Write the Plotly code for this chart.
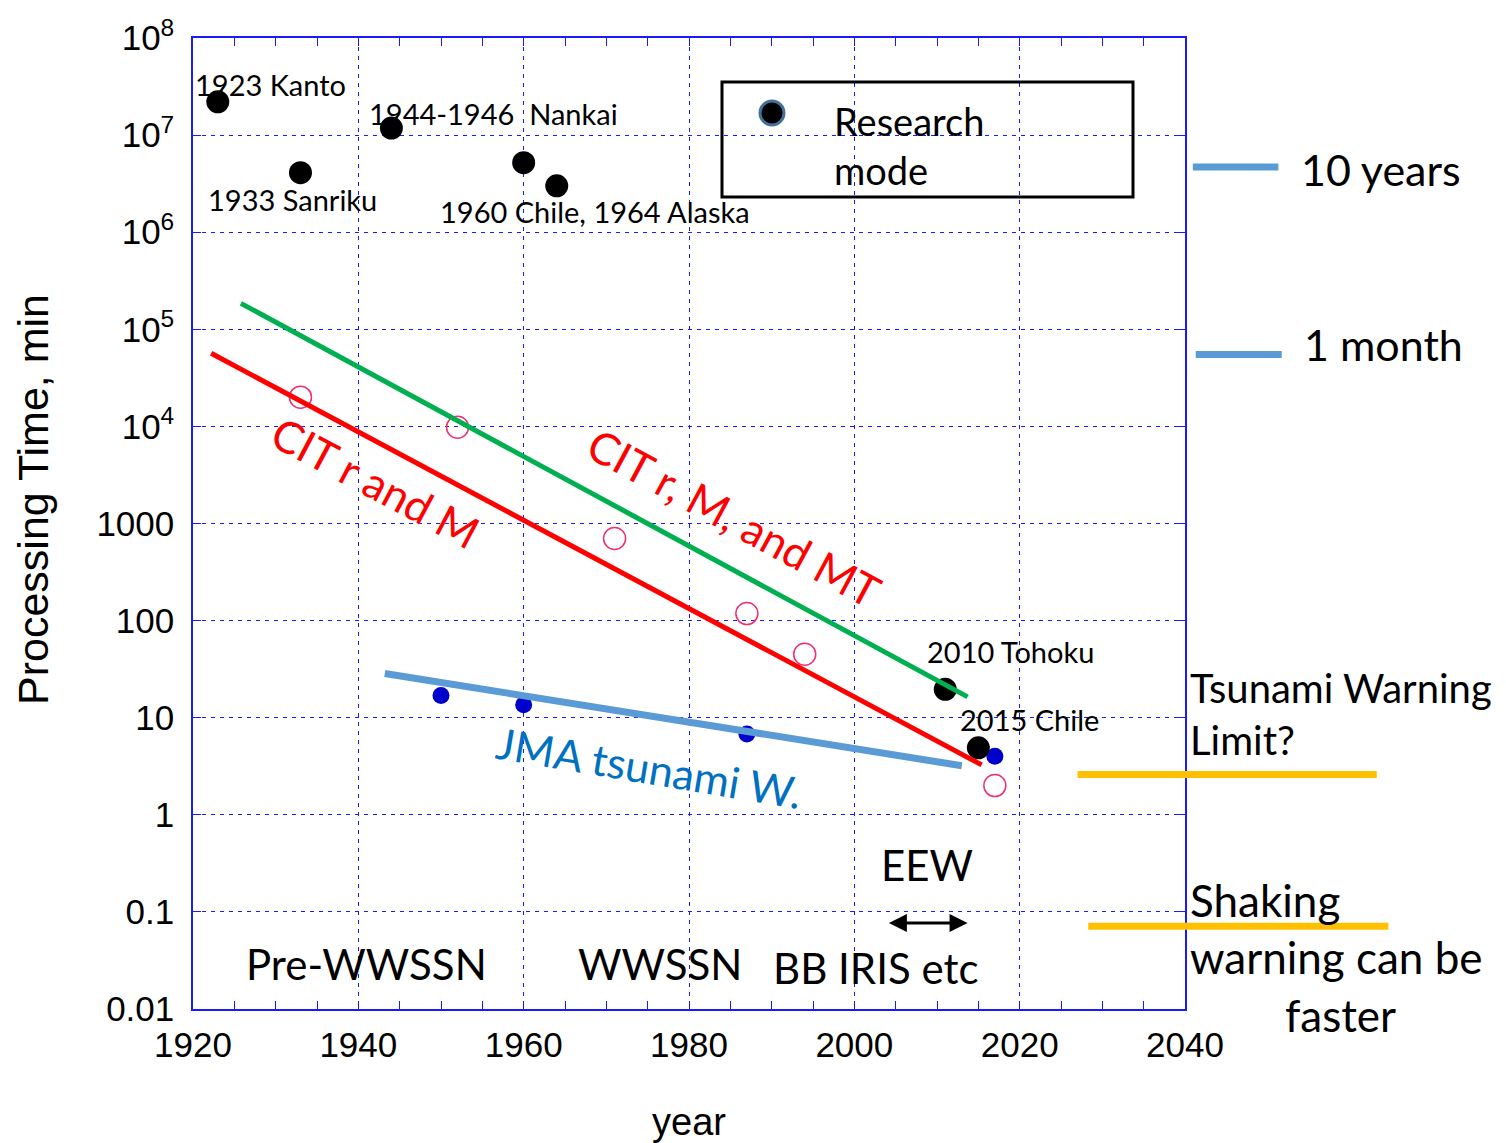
import numpy as np
import plotly.graph_objects as go

# ---------------- data ----------------
research_years = [1923, 1933, 1944, 1960, 1964, 2011, 2015]
research_minutes = [2.2e7, 4.1e6, 1.18e7, 5.2e6, 3.0e6, 19.6, 4.9]

jma_years = [1950, 1960, 1987, 2017]
jma_minutes = [16.9, 13.6, 6.8, 4.0]

cit_years = [1933, 1952, 1971, 1987, 1994, 2017]
cit_minutes = [2.0e4, 9.8e3, 700, 118, 45, 2.0]

green_fit_years = [1925.8, 2013.7]
green_fit_minutes = [1.85e5, 16.4]
red_fit_years = [1922.2, 2015.4]
red_fit_minutes = [5.66e4, 3.27]
jma_fit_years = [1943.2, 2013.0]
jma_fit_minutes = [28.5, 3.2]

tsunami_limit_minutes = 2.6
shaking_minutes = 0.071
ten_years_minutes = 4.7e6
one_month_minutes = 5.5e4

ytick_vals = [0.01, 0.1, 1, 10, 100, 1000, 1e4, 1e5, 1e6, 1e7, 1e8]
ytick_text = ["0.01", "0.1", "1", "10", "100", "1000",
              "10<sup>4</sup>", "10<sup>5</sup>", "10<sup>6</sup>",
              "10<sup>7</sup>", "10<sup>8</sup>"]
xtick_vals = [1920, 1940, 1960, 1980, 2000, 2020, 2040]

X0, X1 = 1920, 2040
Y0, Y1 = -2, 8  # log10 range


def px(year):
    return (year - X0) / (X1 - X0)


def py(value):
    return (np.log10(value) - Y0) / (Y1 - Y0)


CAL = "Lato, Carlito, Calibri, sans-serif"
ARIAL = "Liberation Sans, Arial, sans-serif"
GRID = "#1a1aff"

fig = go.Figure()

fig.add_trace(go.Scatter(x=cit_years, y=cit_minutes, mode="markers",
                         marker=dict(symbol="circle-open", size=22, color="#f0306e",
                                     line=dict(width=1.5, color="#f0306e")),
                         showlegend=False))
fig.add_trace(go.Scatter(x=jma_years, y=jma_minutes, mode="markers",
                         marker=dict(size=17, color="#0000cc"), showlegend=False))
fig.add_trace(go.Scatter(x=research_years, y=research_minutes, mode="markers",
                         marker=dict(size=23, color="black"), showlegend=False,
                         name="Research mode"))
fig.add_trace(go.Scatter(x=green_fit_years, y=green_fit_minutes, mode="lines",
                         line=dict(color="#00b050", width=5), showlegend=False))
fig.add_trace(go.Scatter(x=red_fit_years, y=red_fit_minutes, mode="lines",
                         line=dict(color="#ff0000", width=5), showlegend=False))
fig.add_trace(go.Scatter(x=jma_fit_years, y=jma_fit_minutes, mode="lines",
                         line=dict(color="#5b9bd5", width=7), showlegend=False))

shapes = []
# legend frame and symbol
shapes.append(dict(type="rect", xref="paper", yref="paper",
                   x0=(722 - 193) / 992, x1=(1133 - 193) / 992,
                   y0=(1009 - 197) / 971, y1=(1009 - 82) / 971,
                   line=dict(color="black", width=3), fillcolor="rgba(0,0,0,0)"))
shapes.append(dict(type="circle", xref="paper", yref="paper",
                   x0=(760 - 193) / 992, x1=(784 - 193) / 992,
                   y0=(1009 - 125) / 971, y1=(1009 - 101) / 971,
                   line=dict(color="#41719c", width=3), fillcolor="black"))
# orange limit lines
shapes.append(dict(type="line", xref="paper", yref="y", x0=px(2027.0), x1=px(2063.2),
                   y0=tsunami_limit_minutes, y1=tsunami_limit_minutes,
                   line=dict(color="#ffc000", width=7)))
shapes.append(dict(type="line", xref="paper", yref="y", x0=px(2028.3), x1=px(2064.6),
                   y0=shaking_minutes, y1=shaking_minutes,
                   line=dict(color="#ffc000", width=7)))
# 10 years / 1 month markers
shapes.append(dict(type="line", xref="paper", yref="y", x0=px(2040.95), x1=px(2051.3),
                   y0=ten_years_minutes, y1=ten_years_minutes,
                   line=dict(color="#5b9bd5", width=7)))
shapes.append(dict(type="line", xref="paper", yref="y", x0=px(2041.3), x1=px(2051.7),
                   y0=one_month_minutes, y1=one_month_minutes,
                   line=dict(color="#5b9bd5", width=7)))

ann = []


def txt(text, x, y, size, color="black", angle=0, font=CAL, outside=False,
        xanchor="center", align="center"):
    if outside:
        d = dict(x=px(x), y=py(y), xref="paper", yref="paper")
    else:
        d = dict(x=x, y=np.log10(y), xref="x", yref="y")
    d.update(text=text, showarrow=False,
             font=dict(family=font, size=size, color=color), textangle=angle,
             xanchor=xanchor, yanchor="middle", align=align)
    ann.append(d)


txt("1923 Kanto", 1929.4, 10 ** 7.526, 29)
txt("1933 Sanriku", 1932.0, 10 ** 6.34, 29)
txt("1944-1946  Nankai", 1956.4, 10 ** 7.227, 29)
txt("1960 Chile, 1964 Alaska", 1968.6, 10 ** 6.216, 29)
txt("2010 Tohoku", 2018.9, 10 ** 1.68, 29)
txt("2015 Chile", 2021.2, 10 ** 0.979, 29)
txt("CIT r and M", 1942.1, 10 ** 3.423, 44, color="#ff0000", angle=28)
txt("CIT r, M, and MT", 1985.4, 10 ** 3.062, 44, color="#ff0000", angle=28.4)
txt("JMA tsunami W.", 1975.2, 10 ** 0.49, 43, color="#0070c0", angle=9.5)
txt("EEW", 2008.8, 10 ** -0.515, 42)
txt("Pre-WWSSN", 1941.0, 10 ** -1.536, 42)
txt("WWSSN", 1976.5, 10 ** -1.536, 42)
txt("BB IRIS etc", 2002.6, 10 ** -1.577, 42)
# legend text
txt("Research<br>mode", 1997.3, 10 ** 6.89, 38, xanchor="left", align="left")
txt("Tsunami Warning<br>Limit?", 2040.35, 10 ** 1.04, 40, outside=True, xanchor="left", align="left")
txt("Shaking<br>warning can be", 2040.35, 10 ** -1.175, 44, outside=True, xanchor="left", align="left")
txt("faster", 2058.8, 10 ** -2.06, 44, outside=True)
txt("10 years", 2053.8, 10 ** 6.65, 43, outside=True, xanchor="left")
txt("1 month", 2054.1, 10 ** 4.84, 43, outside=True, xanchor="left")

# y axis title
ann.append(dict(text="Processing Time, min", x=(33 - 193) / 992, y=(1009 - 500) / 971,
                xref="paper", yref="paper", showarrow=False, textangle=-90,
                font=dict(family=ARIAL, size=43, color="black"),
                xanchor="center", yanchor="middle"))

# EEW double arrow
ann.append(dict(x=2013.7, y=np.log10(0.077), ax=2004.0, ay=np.log10(0.077), xref="x", yref="y",
                axref="x", ayref="y", text="", showarrow=True, arrowhead=2,
                arrowside="end+start", arrowsize=1.2, arrowwidth=3, arrowcolor="black"))

axis_common = dict(showline=True, linecolor=GRID, linewidth=1.5, mirror="ticks",
                   showgrid=True, gridcolor=GRID, gridwidth=1, griddash="4px,5px",
                   ticks="inside", ticklen=8, tickcolor=GRID, tickwidth=1,
                   zeroline=False, automargin=False)

fig.update_layout(
    width=1506, height=1143,
    margin=dict(l=193, r=321, t=38, b=134),
    paper_bgcolor="white", plot_bgcolor="white",
    xaxis=dict(range=[X0, X1], tickvals=xtick_vals,
               tickfont=dict(family=ARIAL, size=35, color="black"),
               minor=dict(dtick=5, ticks="inside", ticklen=8, tickcolor=GRID, showgrid=False),
               title=dict(text="year", font=dict(family=ARIAL, size=38, color="black"), standoff=50),
               ticklabelstandoff=4,
               **axis_common),
    yaxis=dict(type="log", range=[Y0, Y1], tickvals=ytick_vals, ticktext=ytick_text,
               tickfont=dict(family=ARIAL, size=35, color="black"),
               ticklabelstandoff=10,
               **axis_common),
    shapes=shapes,
    annotations=ann,
    showlegend=False,
)

fig.write_html("out.html")
